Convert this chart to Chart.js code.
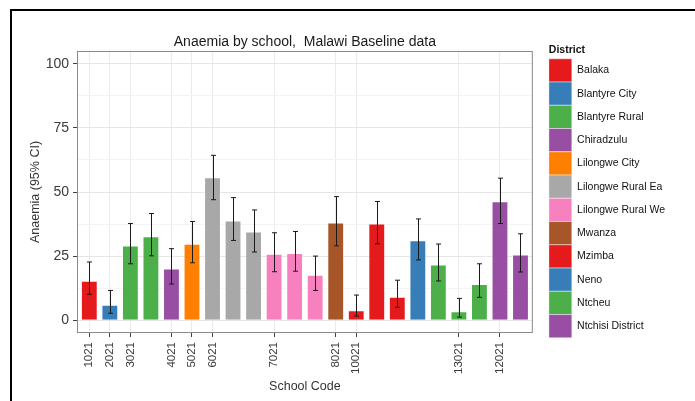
<!DOCTYPE html>
<html>
<head>
<meta charset="utf-8">
<script src="https://cdn.jsdelivr.net/npm/chart.js@4/dist/chart.umd.min.js"></script>
<style>
  body { margin: 0; background: #fff; }
  #wrap { position: relative; width: 695px; height: 401px; }
  #frame { position: absolute; left: 10px; top: 9px; right: 0; bottom: 0;
           border-top: 2px solid #000; border-left: 2px solid #000; pointer-events: none; }
</style>
</head>
<body>
<div id="wrap">
  <canvas id="chart" width="695" height="401"></canvas>
  <div id="frame"></div>
</div>
<script>
// tick labels under each bar ('' = no label shown)
const schoolCodes = ['1021', '2021', '3021', '', '4021', '5021', '6021', '', '', '7021', '', '',
    '8021', '10021', '', '', '', '', '13021', '', '12021', ''];

const barDistrict = ['Balaka', 'Blantyre City', 'Blantyre Rural', 'Blantyre Rural', 'Chiradzulu',
    'Lilongwe City', 'Lilongwe Rural Ea', 'Lilongwe Rural Ea', 'Lilongwe Rural Ea',
    'Lilongwe Rural We', 'Lilongwe Rural We', 'Lilongwe Rural We', 'Mwanza',
    'Mzimba', 'Mzimba', 'Mzimba', 'Neno', 'Ntcheu', 'Ntcheu', 'Ntcheu',
    'Ntchisi District', 'Ntchisi District'];

const anaemia = [15.4, 6.0, 29.1, 32.7, 20.2, 29.8, 55.8, 38.9, 34.6, 25.9, 26.2,
    17.7, 38.1, 3.9, 37.7, 9.1, 31.2, 21.7, 3.5, 14.1, 46.4, 25.6];
const ciLow = [10.1, 2.7, 22.0, 25.1, 14.1, 22.4, 47.0, 31.1, 26.6, 18.9, 19.1,
    11.6, 29.0, 1.6, 29.8, 5.0, 23.5, 15.3, 1.2, 8.9, 37.7, 18.8];
const ciHigh = [22.7, 11.6, 37.7, 41.6, 27.9, 38.5, 64.3, 47.8, 43.0, 34.1, 34.6,
    25.0, 48.2, 9.8, 46.3, 15.6, 39.5, 29.7, 8.5, 22.0, 55.4, 33.7];

const districts = ['Balaka', 'Blantyre City', 'Blantyre Rural', 'Chiradzulu', 'Lilongwe City',
    'Lilongwe Rural Ea', 'Lilongwe Rural We', 'Mwanza', 'Mzimba', 'Neno', 'Ntcheu', 'Ntchisi District'];
const districtColors = ['#e41a1c', '#377eb8', '#4daf4a', '#984ea3', '#ff7f00', '#a8a8a8',
    '#f781bf', '#a65628', '#e41a1c', '#377eb8', '#4daf4a', '#984ea3'];

const yTicks = [0, 12.5, 25, 37.5, 50, 62.5, 75, 87.5, 100];

const FONT = "'Liberation Sans', Arial, sans-serif";
const barColors = barDistrict.map(d => districtColors[districts.indexOf(d)]);

// error bars + panel border
const errorBars = {
    id: 'errorBars',
    afterDatasetsDraw(chart) {
        const c = chart.ctx, xs = chart.scales.x, ys = chart.scales.y;
        c.save();
        c.strokeStyle = '#1a1a1a';
        c.lineWidth = 1;
        anaemia.forEach((v, i) => {
            const px = Math.round(xs.getPixelForValue(i + 1)) + 0.5;
            const top = ys.getPixelForValue(ciHigh[i]);
            const bot = ys.getPixelForValue(ciLow[i]);
            c.beginPath();
            c.moveTo(px, top); c.lineTo(px, bot);
            c.moveTo(px - 2.5, top); c.lineTo(px + 2.5, top);
            c.moveTo(px - 2.5, bot); c.lineTo(px + 2.5, bot);
            c.stroke();
        });
        const a = chart.chartArea;
        c.strokeStyle = '#8a8a8a';
        c.strokeRect(a.left + 0.5, a.top + 0.5, a.right - a.left - 1, a.bottom - a.top - 1);
        c.restore();
    }
};

new Chart(document.getElementById('chart'), {
    type: 'bar',
    data: {
        datasets: [{
            data: anaemia.map((v, i) => ({ x: i + 1, y: v })),
            backgroundColor: barColors,
            borderColor: 'rgba(255,255,255,0.45)',
            borderWidth: 1,
            barPercentage: 0.82,
            categoryPercentage: 1
        }]
    },
    options: {
        responsive: false,
        animation: false,
        devicePixelRatio: 1,
        layout: { padding: { top: 20, left: 26, right: 20, bottom: 4 } },
        plugins: {
            tooltip: { enabled: false },
            title: {
                display: true,
                fullSize: false,
                text: 'Anaemia by school,  Malawi Baseline data',
                color: '#1a1a1a',
                font: { family: FONT, size: 14, weight: 'normal' },
                padding: { top: 14, bottom: 0.2 }
            },
            legend: {
                position: 'right',
                align: 'start',
                maxWidth: 140,
                title: {
                    display: true,
                    text: 'District',
                    position: 'start',
                    color: '#111',
                    font: { family: FONT, size: 10.5, weight: 'bold' },
                    padding: { top: 24.5, bottom: 1.7 }
                },
                labels: {
                    boxWidth: 23,
                    boxHeight: 23.25,
                    padding: 0,
                    color: '#1a1a1a',
                    font: { family: FONT, size: 10.5 },
                    generateLabels: () => districts.map((d, i) => ({
                        text: d,
                        fillStyle: districtColors[i],
                        strokeStyle: 'rgba(255,255,255,0.45)',
                        lineWidth: 1,
                        hidden: false,
                        index: i
                    }))
                },
                onClick: null
            }
        },
        scales: {
            x: {
                type: 'linear',
                min: 0.4,
                max: 22.6,
                offset: false,
                afterBuildTicks: s => {
                    s.ticks = schoolCodes.map((c, i) => c ? { value: i + 1 } : null).filter(Boolean);
                },
                ticks: {
                    autoSkip: false,
                    minRotation: 90,
                    maxRotation: 90,
                    padding: 5,
                    color: '#3a3a3a',
                    font: { family: FONT, size: 11.5 },
                    callback: v => schoolCodes[Math.round(v) - 1]
                },
                grid: { offset: false, color: '#ebebeb', lineWidth: 1, tickLength: 4, tickColor: '#444' },
                border: { display: false },
                title: {
                    display: true,
                    text: 'School Code',
                    color: '#333',
                    font: { family: FONT, size: 12.5 },
                    padding: { top: 0, bottom: 2.5 }
                },
                afterFit: s => { s.height = 64; }
            },
            y: {
                min: -5,
                max: 105,
                afterBuildTicks: s => { s.ticks = yTicks.map(v => ({ value: v })); },
                ticks: {
                    padding: 4,
                    color: '#3a3a3a',
                    font: { family: FONT, size: 14 },
                    callback: v => (v % 25 === 0 ? v : '')
                },
                grid: {
                    color: c => (c.tick && c.tick.value % 25 === 0 ? '#e6e6e6' : '#f4f4f4'),
                    tickLength: 4,
                    tickColor: c => (c.tick && c.tick.value % 25 === 0 ? '#444' : 'rgba(0,0,0,0)')
                },
                border: { display: false },
                title: {
                    display: true,
                    text: 'Anaemia (95% CI)',
                    color: '#333',
                    font: { family: FONT, size: 12.5 },
                    padding: { top: 2.5, bottom: 0 }
                },
                afterFit: s => { s.width = 51; }
            },
            gap: {
                type: 'linear',
                position: 'right',
                display: true,
                grid: { display: false },
                ticks: { display: false },
                border: { display: false },
                afterFit: s => { s.width = 16; }
            }
        }
    },
    plugins: [errorBars]
});
</script>
</body>
</html>
